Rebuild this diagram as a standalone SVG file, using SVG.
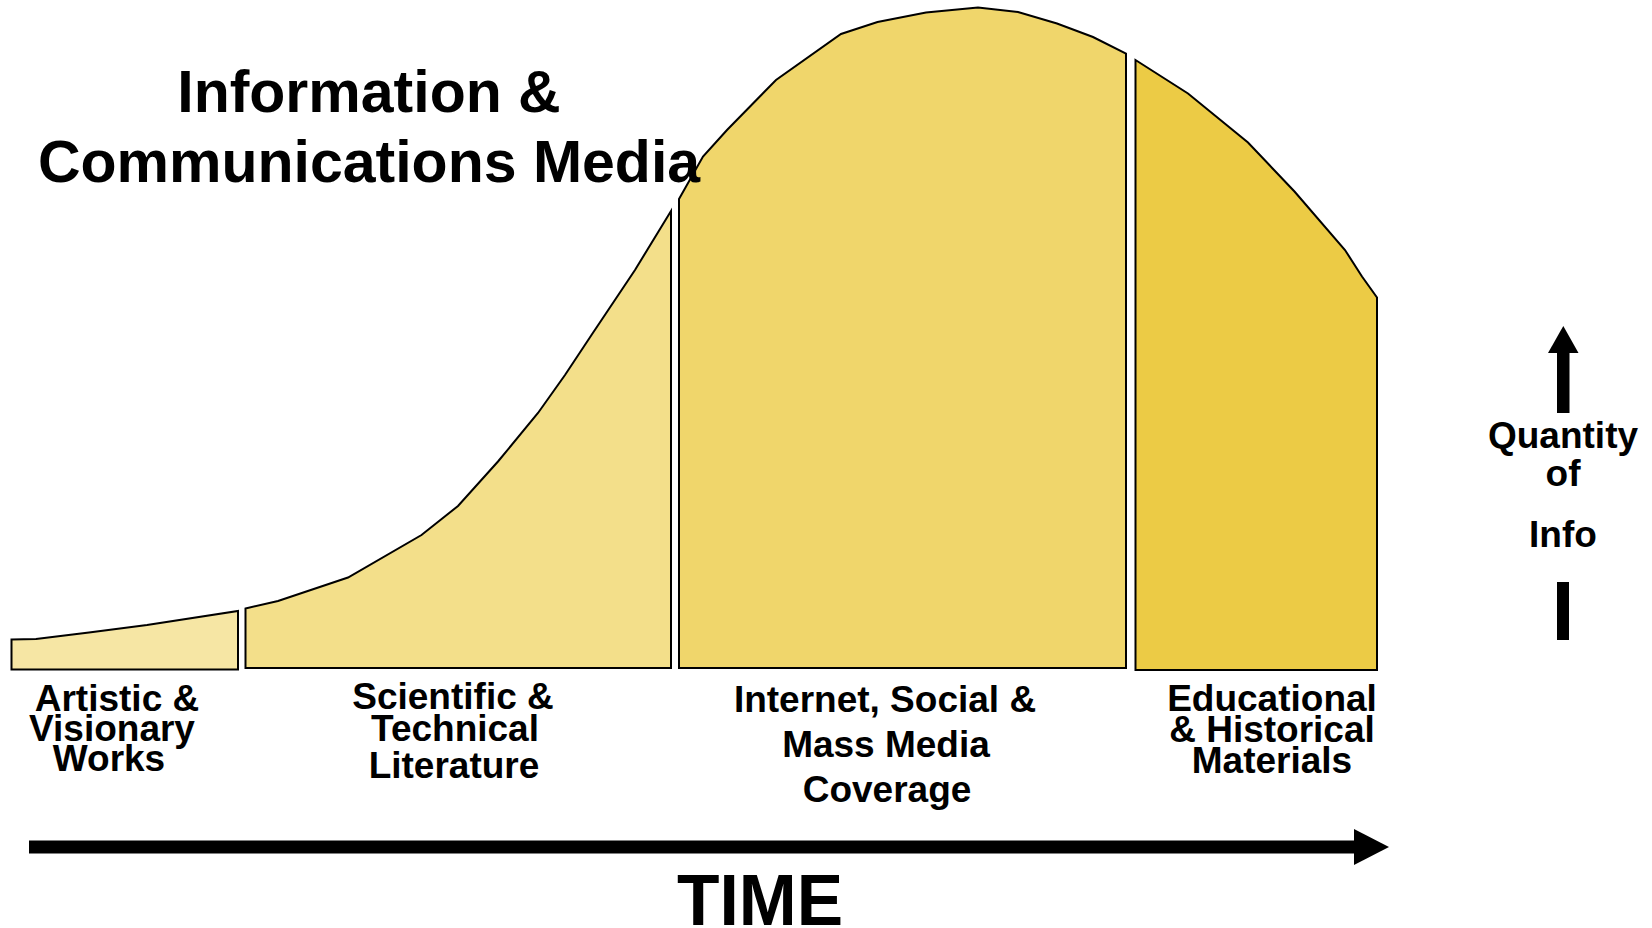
<svg xmlns="http://www.w3.org/2000/svg" width="1652" height="928" viewBox="0 0 1652 928">
<style>
.seg{stroke:#000;stroke-width:2;stroke-linejoin:miter}
.lbl{font-family:"Liberation Sans",Arial,sans-serif;font-weight:bold;font-size:37px;fill:#000;text-anchor:middle}
.title{font-family:"Liberation Sans",Arial,sans-serif;font-weight:bold;font-size:59px;fill:#000;text-anchor:middle}
</style>
<rect width="1652" height="928" fill="#fff"/>
<g id="artistic">
<path class="seg" fill="#F6E6A4" d="M11.5,639.5 L36,639 L89,632.5 L147,625 L238,611 L238,669.5 L11.5,669.5 Z"/>
<text class="lbl"><tspan x="117" y="711">Artistic &amp;</tspan><tspan x="112" y="741">Visionary</tspan><tspan x="109" y="771">Works</tspan></text>
</g>
<g id="scientific">
<path class="seg" fill="#F3DF8A" d="M245.5,608.5 L278,601 L348,577.5 L421.5,535 L458,506 L498,461.5 L538,413 L565,375 L591.5,335 L635,270 L671,211 L671,668 L245.5,668 Z"/>
<text class="lbl"><tspan x="453" y="709">Scientific &amp;</tspan><tspan x="455" y="741">Technical</tspan><tspan x="454" y="778">Literature</tspan></text>
</g>
<g id="internet">
<path class="seg" fill="#F0D66B" d="M679,668 L679,199 L703,156.5 L727,130 L776,80 L841,34 L877.5,22 L926,12.5 L978,7.5 L1018,12 L1057,23.5 L1093,37 L1126,53.5 L1126,668 Z"/>
<text class="lbl"><tspan x="885" y="712">Internet, Social &amp;</tspan><tspan x="886" y="757">Mass Media</tspan><tspan x="887" y="802">Coverage</tspan></text>
</g>
<g id="educational">
<path class="seg" fill="#ECCB45" d="M1135.5,60 L1188,93.5 L1248,142.5 L1294.5,191.5 L1345,250 L1362,276.5 L1377,297.5 L1377,670 L1135.5,670 Z"/>
<text class="lbl"><tspan x="1272" y="711">Educational</tspan><tspan x="1272" y="742">&amp; Historical</tspan><tspan x="1272" y="773">Materials</tspan></text>
</g>
<g id="title">
<text class="title"><tspan x="369" y="112">Information &amp;</tspan><tspan x="369" y="182">Communications Media</tspan></text>
</g>
<g id="quantity">
<text class="lbl"><tspan x="1563" y="448">Quantity</tspan><tspan x="1563" y="486">of</tspan><tspan x="1563" y="547">Info</tspan></text>
</g>
<g id="time-label">
<text class="title" x="760" y="925" textLength="166" lengthAdjust="spacingAndGlyphs" style="font-size:73px">TIME</text>
</g>
<g id="connectors">
<rect x="1557" y="350" width="12.5" height="63" fill="#000"/>
<polygon points="1563.3,326 1578.5,353 1548,353" fill="#000"/>
<rect x="1557" y="582" width="12" height="58" fill="#000"/>
<rect x="29" y="840.5" width="1326" height="13" fill="#000"/>
<polygon points="1354,829 1389,847 1354,865" fill="#000"/>
</g>
</svg>
